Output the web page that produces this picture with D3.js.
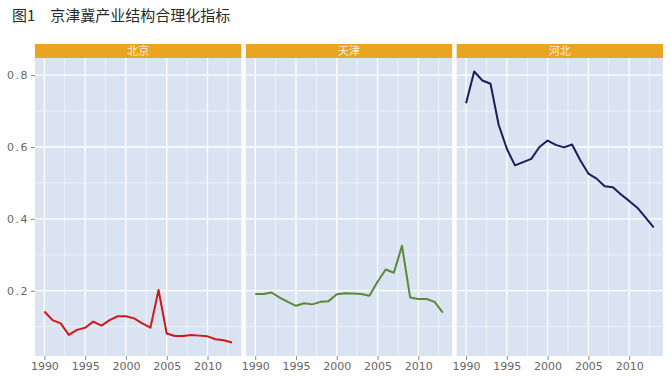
<!DOCTYPE html>
<html>
<head>
<meta charset="utf-8">
<script src="https://cdn.jsdelivr.net/npm/d3@7"></script>
<style>
  body { margin: 0; background: #fff; }
  svg { display: block; font-family: "Noto Sans CJK SC", "DejaVu Sans", sans-serif; }
</style>
</head>
<body>
<div id="chart"></div>
<script>
// years 1990-2013
const years = d3.range(1990, 2014);
const regions = ['北京', '天津', '河北'];
const beijing = [0.142, 0.118, 0.109, 0.077, 0.091, 0.097, 0.114, 0.103, 0.118, 0.129, 0.129, 0.123,
                 0.109, 0.097, 0.202, 0.081, 0.074, 0.074, 0.077, 0.075, 0.073, 0.065, 0.062, 0.056];
const tianjin = [0.191, 0.191, 0.195, 0.181, 0.169, 0.158, 0.165, 0.162, 0.169, 0.171, 0.190, 0.193,
                 0.192, 0.191, 0.186, 0.225, 0.259, 0.250, 0.325, 0.181, 0.177, 0.177, 0.169, 0.139];
const hebei = [0.722, 0.810, 0.785, 0.776, 0.662, 0.595, 0.549, 0.558, 0.567, 0.600, 0.618, 0.606,
               0.599, 0.607, 0.563, 0.526, 0.512, 0.491, 0.488, 0.468, 0.450, 0.431, 0.404, 0.376];
const lineColors = ['#d01818', '#5a8a38', '#1c1c5c'];
const xTicks = [1990, 1995, 2000, 2005, 2010];
const xMinor = [1992.5, 1997.5, 2002.5, 2007.5, 2012.5];
const yTicks = [0.2, 0.4, 0.6, 0.8];
const yMinor = [0.1, 0.3, 0.5, 0.7];

const series = [beijing, tianjin, hebei];

const width = 671, height = 376;
const margin = {top: 58, bottom: 20, left: 35, right: 8};
const stripH = 14, gap = 4.5;
const panelW = (width - margin.left - margin.right - 2 * gap) / 3;

const svg = d3.select('#chart').append('svg')
    .attr('width', width)
    .attr('height', height);

svg.append('text')
    .attr('x', 12).attr('y', 21)
    .attr('fill', '#2a2a2a')
    .style('font-size', '15px')
    .text('图1　京津冀产业结构合理化指标');

// ggplot style 5% expansion
const all = series.flat();
const [ymin, ymax] = d3.extent(all);
const ypad = (ymax - ymin) * 0.05;
const y = d3.scaleLinear()
    .domain([ymin - ypad, ymax + ypad])
    .range([height - margin.bottom, margin.top]);
const xpad = (years[years.length - 1] - years[0]) * 0.05;

// y axis labels (only on the left)
const yAxis = svg.append('g')
    .attr('transform', `translate(${margin.left},0)`)
    .call(d3.axisLeft(y).tickValues(yTicks).tickSize(4).tickPadding(2).tickFormat(d3.format('.1f')));
yAxis.select('.domain').remove();
yAxis.selectAll('line').attr('stroke', '#888');
yAxis.selectAll('text')
    .attr('fill', '#666')
    .style('font-family', '"DejaVu Sans", sans-serif')
    .style('font-size', '11px')
    .style('letter-spacing', '1.5px');

regions.forEach((name, i) => {
    const x0 = margin.left + i * (panelW + gap);
    const x = d3.scaleLinear()
        .domain([years[0] - xpad, years[years.length - 1] + xpad])
        .range([x0, x0 + panelW]);

    const g = svg.append('g');

    // strip
    g.append('rect')
        .attr('x', x0).attr('y', margin.top - stripH)
        .attr('width', panelW).attr('height', stripH)
        .attr('fill', '#e9a421');
    g.append('text')
        .attr('x', x0 + panelW / 2).attr('y', margin.top - stripH / 2 + 4)
        .attr('text-anchor', 'middle')
        .attr('fill', '#fbeedd')
        .style('font-size', '11px')
        .text(name);

    // panel background
    g.append('rect')
        .attr('x', x0).attr('y', margin.top)
        .attr('width', panelW).attr('height', height - margin.bottom - margin.top)
        .attr('fill', '#d9e3f1');

    // grid
    g.selectAll('.ymin').data(yMinor).enter().append('line')
        .attr('x1', x0).attr('x2', x0 + panelW)
        .attr('y1', d => y(d)).attr('y2', d => y(d))
        .attr('stroke', '#fff').attr('stroke-width', 0.6);
    g.selectAll('.xmin').data(xMinor).enter().append('line')
        .attr('y1', margin.top).attr('y2', height - margin.bottom)
        .attr('x1', d => x(d)).attr('x2', d => x(d))
        .attr('stroke', '#fff').attr('stroke-width', 0.6);
    g.selectAll('.ymaj').data(yTicks).enter().append('line')
        .attr('x1', x0).attr('x2', x0 + panelW)
        .attr('y1', d => y(d)).attr('y2', d => y(d))
        .attr('stroke', '#fff').attr('stroke-width', 1.3);
    g.selectAll('.xmaj').data(xTicks).enter().append('line')
        .attr('y1', margin.top).attr('y2', height - margin.bottom)
        .attr('x1', d => x(d)).attr('x2', d => x(d))
        .attr('stroke', '#fff').attr('stroke-width', 1.3);

    // x axis
    const xa = g.append('g')
        .attr('transform', `translate(0,${height - margin.bottom})`)
        .call(d3.axisBottom(x).tickValues(xTicks).tickSize(4).tickPadding(2).tickFormat(d3.format('d')));
    xa.select('.domain').remove();
    xa.selectAll('line').attr('stroke', '#888');
    xa.selectAll('text')
        .attr('fill', '#666')
        .style('font-family', '"DejaVu Sans", sans-serif')
        .style('font-size', '11px');

    // line
    const line = d3.line()
        .x((d, j) => x(years[j]))
        .y(d => y(d));
    g.append('path')
        .datum(series[i])
        .attr('d', line)
        .attr('fill', 'none')
        .attr('stroke', lineColors[i])
        .attr('stroke-width', 2)
        .attr('stroke-linejoin', 'round');
});
</script>
</body>
</html>
